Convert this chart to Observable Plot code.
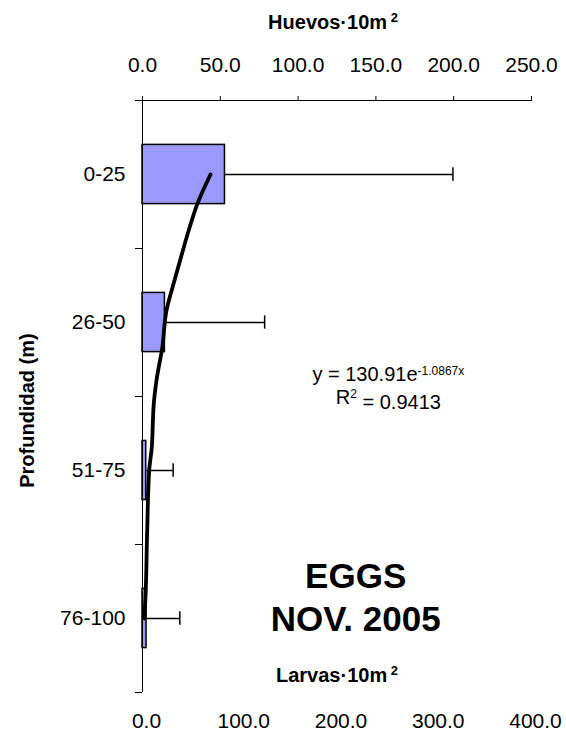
<!DOCTYPE html>
<html>
<head>
<meta charset="utf-8">
<script src="https://cdn.jsdelivr.net/npm/d3@7"></script>
<script src="https://cdn.jsdelivr.net/npm/@observablehq/plot@0.6"></script>
<style>
  body { margin: 0; background: #fff; }
  svg { display: block; }
</style>
</head>
<body>
<div id="chart"></div>
<script>
// ---- data ----
const depthLabels = ["0-25", "26-50", "51-75", "76-100"];
const eggValues = [53.0, 14.4, 2.4, 2.6];          // Huevos·10m²
const eggSD = [146.5, 64.1, 17.3, 21.4];           // error bar length
const eggTicks = [0, 50, 100, 150, 200, 250];
const larvaeTicks = [0, 100, 200, 300, 400];
// fitted trend line (depth position, value)
const trendPos = [1.0, 1.2, 1.36, 1.53, 1.74, 1.92, 2.17, 2.39, 2.57, 2.66, 2.84, 3.0, 3.41, 3.86, 4.0];
const trendVal = [43.7, 35.2, 30.2, 25.5, 19.9, 15.4, 12.7, 9.0, 7.1, 6.7, 6.0, 4.3, 3.0, 1.9, 1.2];
const eqMain = "y = 130.91e";
const eqExp = "-1.0867x";
const r2Main = "R";
const r2Rest = " = 0.9413";
const titleTop = "Huevos·10m";
const titleBottom = "Larvas·10m";
const titleLeft = "Profundidad (m)";
const labelLine1 = "EGGS";
const labelLine2 = "NOV. 2005";

const bars = depthLabels.map((d, i) => ({pos: i + 1, value: eggValues[i], hi: eggValues[i] + eggSD[i]}));
const trend = trendPos.map((p, i) => ({pos: p, value: trendVal[i]}));
const larvaeFactor = 250 / 400;
const font = "'Liberation Sans', Arial, Helvetica, sans-serif";

const plot = Plot.plot({
  width: 566,
  height: 734,
  marginTop: 100,
  marginBottom: 42,
  marginLeft: 142,
  marginRight: 35,
  style: {fontFamily: font, fontSize: "21px", color: "black", background: "white"},
  x: {domain: [0, 250]},
  y: {domain: [0.5, 4.5], reverse: true},
  marks: [
    // bars
    Plot.rect(bars, {x1: 0, x2: "value", y1: d => d.pos - 0.2, y2: d => d.pos + 0.2,
      fill: "#9999ff", stroke: "black", strokeWidth: 1.5}),
    // error bars
    Plot.ruleY(bars, {y: "pos", x1: "value", x2: "hi", stroke: "black", strokeWidth: 1.5}),
    Plot.ruleX(bars, {x: "hi", y1: d => d.pos - 0.045, y2: d => d.pos + 0.045, stroke: "black", strokeWidth: 1.5}),
    // trend line
    Plot.line(trend, {x: "value", y: "pos", stroke: "black", strokeWidth: 3.8, curve: "monotone-y",
      strokeLinecap: "round", strokeLinejoin: "round"}),
    // axis lines
    Plot.ruleY([0.5], {stroke: "black", strokeWidth: 1}),
    Plot.ruleX([0], {stroke: "black", strokeWidth: 1}),
    // top axis (eggs)
    Plot.axisX({anchor: "top", ticks: eggTicks, tickFormat: d => d.toFixed(1), tickSize: 5,
      tickPadding: 24, label: null, fontSize: 21}),
    // bottom axis (larvae) labels only
    Plot.axisX({anchor: "bottom", ticks: larvaeTicks.map(v => v * larvaeFactor),
      tickFormat: d => (d / larvaeFactor).toFixed(1), tickSize: 0, tickPadding: 21,
      label: null, fontSize: 21, dx: 4}),
    // left axis ticks at band boundaries
    Plot.axisY({ticks: [0.5, 1.5, 2.5, 3.5, 4.5], tickFormat: () => "", tickSize: 7, label: null}),
    // left axis category labels
    Plot.axisY({ticks: [1, 2, 3, 4], tickFormat: i => depthLabels[i - 1], tickSize: 0,
      tickPadding: 17, label: null, fontSize: 21}),
    // titles
    Plot.text([titleTop], {frameAnchor: "top", dy: -86, dx: -4, text: d => d, fontWeight: "bold",
      fontSize: 20, letterSpacing: "0.6px"}),
    Plot.text([titleBottom], {frameAnchor: "bottom", dy: -11, dx: 0, text: d => d, fontWeight: "bold",
      fontSize: 20, letterSpacing: "0.6px"}),
    Plot.text([titleLeft], {x: -73.7, y: 2.595, rotate: -90, text: d => d,
      fontWeight: "bold", fontSize: 20}),
    // equation
    Plot.text([eqMain + eqExp], {x: 158, y: 2.355, text: d => d, fontSize: 20}),
    Plot.text([r2Main + r2Rest], {x: 158, y: 2.51, text: d => d, fontSize: 20}),
    // label
    Plot.text([labelLine1], {x: 137, y: 3.72, text: d => d, fontWeight: "bold", fontSize: 35}),
    Plot.text([labelLine2], {x: 137, y: 4.01, text: d => d, fontWeight: "bold", fontSize: 35})
  ]
});

// superscripts
function superscript(full, base, sup, rest, size, dy) {
  d3.select(plot).selectAll("text")
    .filter(function() { return this.textContent === full; })
    .each(function() {
      const t = d3.select(this);
      t.text(null);
      t.append("tspan").text(base);
      t.append("tspan").attr("dy", dy).attr("font-size", size).text(sup);
      if (rest) t.append("tspan").attr("dy", "0.55em").text(rest);
    });
}
superscript(eqMain + eqExp, eqMain, eqExp, null, "12px", "-0.55em");
superscript(r2Main + r2Rest, r2Main, "2", r2Rest, "12px", "-0.55em");
superscript(titleTop, titleTop, " 2", null, "13px", "-0.5em");
superscript(titleBottom, titleBottom, " 2", null, "13px", "-0.5em");

document.getElementById("chart").appendChild(plot);
</script>
</body>
</html>
